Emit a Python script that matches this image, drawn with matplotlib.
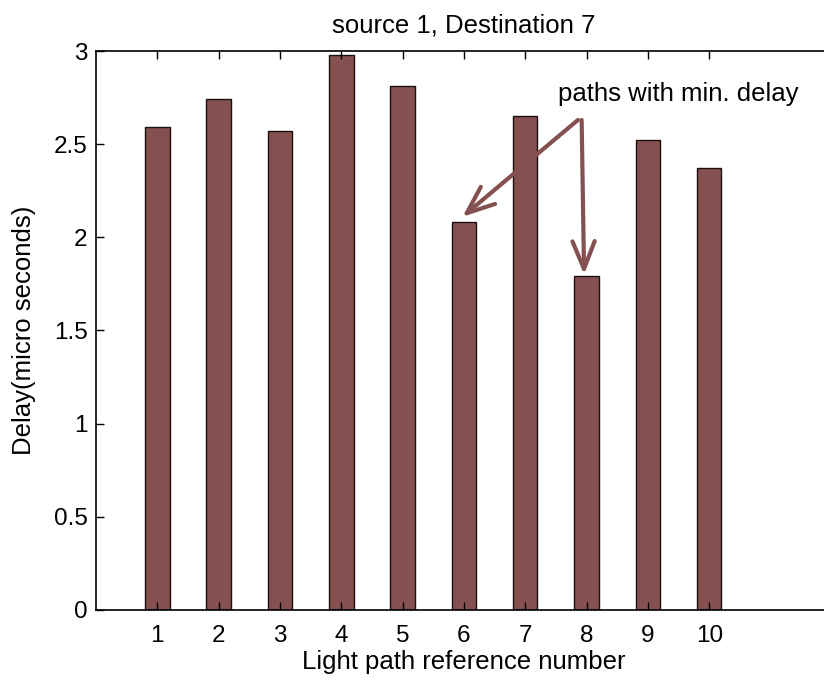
import matplotlib
matplotlib.use("Agg")
import matplotlib.pyplot as plt

# Delay of each candidate light path (source 1 -> destination 7)
paths = [1, 2, 3, 4, 5, 6, 7, 8, 9, 10]
delays = [2.59, 2.74, 2.57, 2.98, 2.81, 2.08, 2.65, 1.79, 2.52, 2.37]
yticks = [0, 0.5, 1, 1.5, 2, 2.5, 3]
ytick_labels = ["0", "0.5", "1", "1.5", "2", "2.5", "3"]

plt.rcParams["font.family"] = ["Liberation Sans", "DejaVu Sans"]

bar_color = "#855050"

fig = plt.figure(figsize=(8.24, 6.82), dpi=100)
ax = fig.add_axes([0.1165, 0.1056, 0.893, 0.8196])

ax.bar(paths, delays, width=0.4, color=bar_color, edgecolor="#1a1010", linewidth=1.0)

ax.set_xlim(0, 12)
ax.set_ylim(0, 3)
ax.set_xticks(paths)
ax.set_xticklabels([str(p) for p in paths])
ax.set_yticks(yticks)
ax.set_yticklabels(ytick_labels)
ax.tick_params(direction="in", top=True, right=True, length=6, width=1,
               labelsize=17.5)
ax.tick_params(axis="y", pad=6)
ax.tick_params(axis="x", pad=11)
for s in ax.spines.values():
    s.set_linewidth(1.2)

ax.set_title("source 1, Destination 7", fontsize=18.5, pad=13)
ax.set_xlabel("Light path reference number", fontsize=18.5, labelpad=2)
ax.set_ylabel("Delay(micro seconds)", fontsize=18.5, labelpad=13)

# Annotation pointing at the two minimum-delay paths
ax.text(7.54, 2.77, "paths with min. delay", fontsize=18.5, va="center", ha="left")
arrow_kw = dict(arrowstyle="->,head_length=2.0,head_width=0.8",
                color=bar_color, lw=3, shrinkA=0, shrinkB=0)
ax.annotate("", xy=(5.975, 2.11), xytext=(7.86, 2.63), arrowprops=arrow_kw)
ax.annotate("", xy=(7.96, 1.80), xytext=(7.92, 2.63), arrowprops=arrow_kw)

fig.savefig("out.png", dpi=100)
